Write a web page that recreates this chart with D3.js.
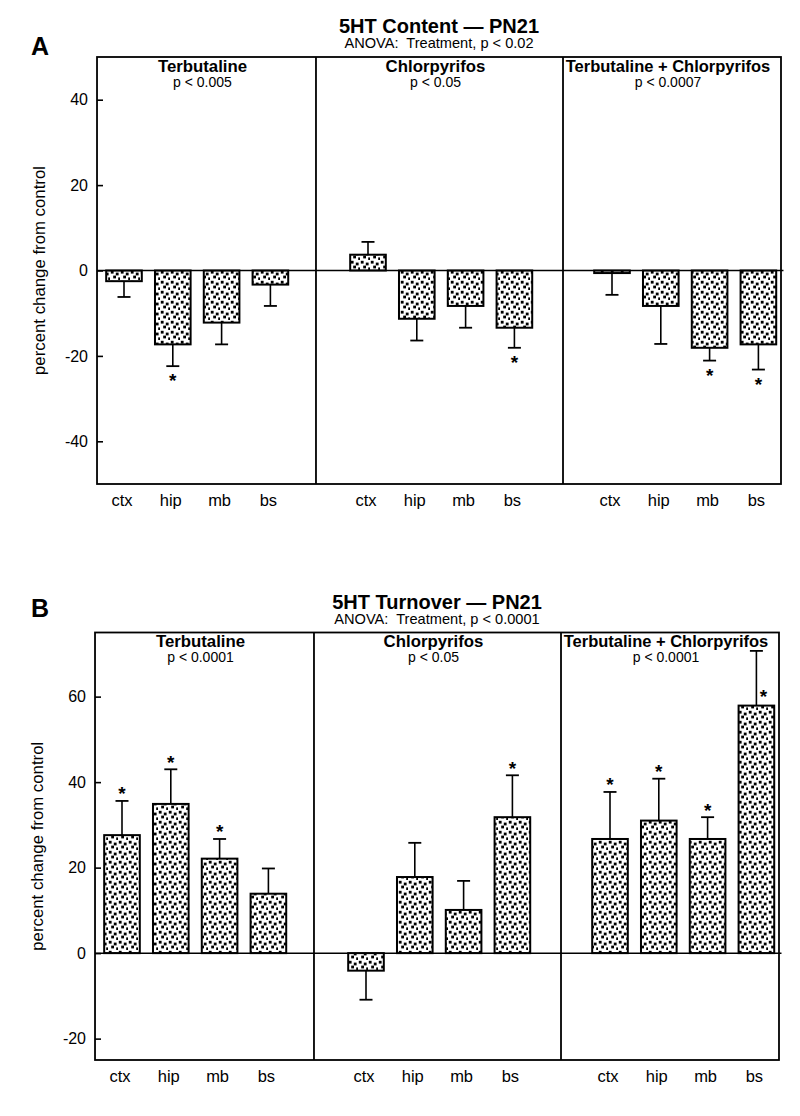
<!DOCTYPE html>
<html>
<head>
<meta charset="utf-8">
<script src="https://cdn.jsdelivr.net/npm/d3@7"></script>
<style>
  html, body { margin: 0; padding: 0; background: #fff; }
  svg { display: block; }
  text { font-family: "Liberation Sans", Arial, Helvetica, sans-serif; fill: #000; white-space: pre; }
</style>
</head>
<body>
<svg id="chart" width="800" height="1116"></svg>
<script>
// ---------------- data ----------------
const regions = ["ctx", "hip", "mb", "bs"];
const treatments = ["Terbutaline", "Chlorpyrifos", "Terbutaline + Chlorpyrifos"];

const contentTitle = "5HT Content \u2014 PN21";
const contentAnova = "ANOVA:\u00a0 Treatment, p < 0.02";
const contentP = ["p < 0.005", "p < 0.05", "p < 0.0007"];
const contentMean = [
  [-2.5, -17.3, -12.2, -3.3],
  [3.7, -11.3, -8.3, -13.4],
  [-0.6, -8.3, -18.1, -17.3]
];
const contentSem = [
  [3.7, 5.1, 5.1, 5.0],
  [3.0, 5.1, 5.1, 4.7],
  [5.1, 8.9, 3.0, 5.9]
];
const contentSig = [
  [false, true, false, false],
  [false, false, false, true],
  [false, false, true, true]
];
const contentTicks = [-40, -20, 0, 20, 40];
const contentDomain = [-50, 50];

const turnoverTitle = "5HT Turnover \u2014 PN21";
const turnoverAnova = "ANOVA:\u00a0 Treatment, p < 0.0001";
const turnoverP = ["p < 0.0001", "p < 0.05", "p < 0.0001"];
const turnoverMean = [
  [27.6, 34.9, 22.1, 13.9],
  [-4.1, 17.8, 10.1, 31.8],
  [26.7, 31.0, 26.7, 57.9]
];
const turnoverSem = [
  [8.0, 8.1, 4.6, 5.9],
  [6.8, 8.0, 6.8, 9.8],
  [11.0, 9.8, 5.1, 12.8]
];
const turnoverSig = [
  [true, true, true, false],
  [false, false, false, true],
  [true, true, true, true]
];
const turnoverTicks = [-20, 0, 20, 40, 60];
const turnoverDomain = [-25, 75];

const yLabel = "percent change from control";

// ---------------- drawing ----------------
const svg = d3.select("#chart");
const defs = svg.append("defs");
const pat = defs.append("pattern")
  .attr("id", "stipple")
  .attr("patternUnits", "userSpaceOnUse")
  .attr("width", 10).attr("height", 10);
pat.append("rect").attr("width", 10).attr("height", 10).attr("fill", "#fff");
[[0.8, 0.8], [5.8, 2.6], [3.2, 5.6], [8.2, 7.4]].forEach(([px, py]) => {
  pat.append("rect").attr("x", px).attr("y", py).attr("width", 2.8).attr("height", 2.8).attr("fill", "#000");
});

function drawPanel(cfg) {
  const g = svg.append("g").attr("transform", `translate(${cfg.dx},0)`);
  // slot-based x scale: 4 regions per treatment, one empty slot between groups
  const x = d3.scaleLinear().domain([0, 13]).range([124, 758.4]);
  const slot = (t, r) => t * 5 + r;
  const left = x(-0.553), right = x(13.463);
  const dividers = [x(3.934), x(8.996)];
  const y = d3.scaleLinear().domain(cfg.domain).range([cfg.bottom, cfg.top]);
  const step = x(1) - x(0);
  const bw = step * 0.73;
  const capW = 13;

  // titles
  const cx = (left + right) / 2;
  g.append("text").attr("x", cx).attr("y", cfg.top - 24)
    .attr("text-anchor", "middle").attr("font-size", 20).attr("font-weight", "bold")
    .text(cfg.title);
  g.append("text").attr("x", cx).attr("y", cfg.top - 9)
    .attr("text-anchor", "middle").attr("font-size", 14.6)
    .text(cfg.anova);
  svg.append("text").attr("x", 40).attr("y", cfg.letterY)
    .attr("text-anchor", "middle").attr("font-size", 25).attr("font-weight", "bold")
    .text(cfg.letter);

  // y label
  g.append("text")
    .attr("transform", `translate(${left - 52},${y(cfg.labelAt)}) rotate(-90)`)
    .attr("text-anchor", "middle").attr("font-size", 16.8)
    .text(yLabel);

  // data
  const rows = [];
  treatments.forEach((t, ti) => regions.forEach((r, ri) => {
    rows.push({ t: ti, r: ri, name: r, mean: cfg.mean[ti][ri], sem: cfg.sem[ti][ri], sig: cfg.sig[ti][ri] });
  }));

  // bars
  g.selectAll("rect.bar").data(rows).join("rect")
    .attr("class", "bar")
    .attr("x", d => x(slot(d.t, d.r)) - bw / 2)
    .attr("width", bw)
    .attr("y", d => Math.min(y(d.mean), y(0)))
    .attr("height", d => Math.max(Math.abs(y(d.mean) - y(0)), 1.5))
    .attr("fill", "url(#stipple)")
    .attr("stroke", "#000").attr("stroke-width", 2);

  // error bars (one-sided)
  const ends = d => d.mean + (d.mean >= 0 ? d.sem : -d.sem);
  g.selectAll("line.err").data(rows).join("line")
    .attr("class", "err")
    .attr("x1", d => x(slot(d.t, d.r))).attr("x2", d => x(slot(d.t, d.r)))
    .attr("y1", d => y(d.mean)).attr("y2", d => y(ends(d)))
    .attr("stroke", "#000").attr("stroke-width", 1.6);
  g.selectAll("line.cap").data(rows).join("line")
    .attr("class", "cap")
    .attr("x1", d => x(slot(d.t, d.r)) - capW / 2).attr("x2", d => x(slot(d.t, d.r)) + capW / 2)
    .attr("y1", d => y(ends(d))).attr("y2", d => y(ends(d)))
    .attr("stroke", "#000").attr("stroke-width", 1.8);

  // significance stars
  g.selectAll("text.star").data(rows.filter(d => d.sig)).join("text")
    .attr("class", "star")
    .attr("text-anchor", "middle").attr("font-size", 19).attr("font-weight", "bold")
    .attr("x", d => {
      const crowded = y(ends(d)) - cfg.top < 40;
      return x(slot(d.t, d.r)) + (crowded ? 7 : 0);
    })
    .attr("y", d => {
      const crowded = y(ends(d)) - cfg.top < 40;
      let c;
      if (crowded) c = y(d.mean) - 13;
      else if (d.mean >= 0) c = y(ends(d)) - 11;
      else c = y(ends(d)) + 10.5;
      return c + 10.5;
    })
    .text("*");

  // zero line
  g.append("line").attr("x1", left).attr("x2", right + 2.5)
    .attr("y1", y(0)).attr("y2", y(0))
    .attr("stroke", "#000").attr("stroke-width", 1.5);

  // frame and dividers
  g.append("rect").attr("x", left).attr("y", cfg.top)
    .attr("width", right - left).attr("height", cfg.bottom - cfg.top)
    .attr("fill", "none").attr("stroke", "#000").attr("stroke-width", 1.8);
  g.selectAll("line.div").data(dividers).join("line")
    .attr("class", "div")
    .attr("x1", d => d).attr("x2", d => d)
    .attr("y1", cfg.top).attr("y2", cfg.bottom)
    .attr("stroke", "#000").attr("stroke-width", 1.8);

  // panel headers
  const bounds = [left, dividers[0], dividers[1], right];
  treatments.forEach((t, i) => {
    const pc = (bounds[i] + bounds[i + 1]) / 2 - 4;
    g.append("text").attr("x", pc).attr("y", cfg.top + 14.5)
      .attr("text-anchor", "middle").attr("font-size", i === 2 ? 16.5 : 16.8).attr("font-weight", "bold")
      .text(t);
    g.append("text").attr("x", pc).attr("y", cfg.top + 29.5)
      .attr("text-anchor", "middle").attr("font-size", 14)
      .text(cfg.p[i]);
  });

  // y axis
  const axis = d3.axisLeft(y).tickValues(cfg.ticks).tickSize(-6).tickPadding(9)
    .tickFormat(d => String(d));
  const ag = g.append("g").attr("transform", `translate(${left},0)`).call(axis);
  ag.select(".domain").remove();
  ag.selectAll(".tick line").attr("stroke-width", 1.6);
  ag.selectAll(".tick text").attr("font-size", 16).attr("font-family", '"Liberation Sans", Arial, sans-serif');

  // category labels
  g.selectAll("text.cat").data(rows).join("text")
    .attr("class", "cat")
    .attr("x", d => x(slot(d.t, d.r)) - 2)
    .attr("y", cfg.bottom + 22)
    .attr("text-anchor", "middle").attr("font-size", 16.5)
    .text(d => d.name);
}

drawPanel({
  dx: 0, top: 57, bottom: 484, domain: contentDomain, ticks: contentTicks,
  title: contentTitle, anova: contentAnova, p: contentP, letter: "A", letterY: 55,
  mean: contentMean, sem: contentSem, sig: contentSig, labelAt: 0
});
drawPanel({
  dx: -2, top: 632.5, bottom: 1060, domain: turnoverDomain, ticks: turnoverTicks,
  title: turnoverTitle, anova: turnoverAnova, p: turnoverP, letter: "B", letterY: 617,
  mean: turnoverMean, sem: turnoverSem, sig: turnoverSig, labelAt: 25
});
</script>
</body>
</html>
